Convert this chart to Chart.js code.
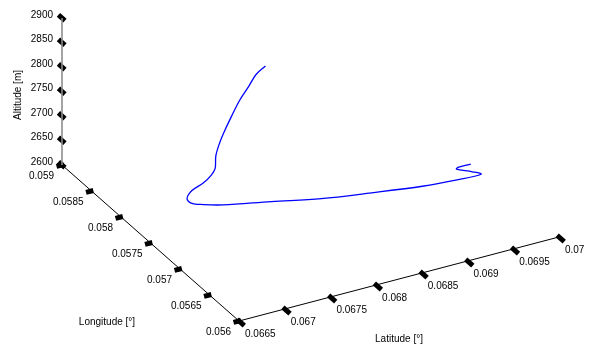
<!DOCTYPE html>
<html>
<head>
<meta charset="UTF-8">
<title>Flight track</title>
<script src="https://cdn.jsdelivr.net/npm/chart.js@4"></script>
<style>
  html, body { margin: 0; padding: 0; background: #fff; }
  #wrap { width: 593px; height: 349px; }
</style>
</head>
<body>
<div id="wrap"><canvas id="chart" width="593" height="349"></canvas></div>
<script>
// track (degrees / metres)
const latitude = [0.06799, 0.06790, 0.06781, 0.06770, 0.06759, 0.06750, 0.06744, 0.06737,
  0.06731, 0.06726, 0.06718, 0.06707, 0.06699, 0.06699, 0.06708, 0.06724, 0.06768,
  0.06813, 0.06861, 0.06910, 0.06944, 0.06971, 0.06966, 0.06955, 0.06958, 0.06972];
const longitude = [0.05786, 0.05788, 0.05787, 0.05785, 0.05782, 0.05779, 0.05778, 0.05774,
  0.05766, 0.05765, 0.05766, 0.05768, 0.05764, 0.05757, 0.05750, 0.05742, 0.05728,
  0.05713, 0.05702, 0.05692, 0.05688, 0.05687, 0.05694, 0.05704, 0.05706, 0.05706];
const altitude = [2850, 2835, 2815, 2795, 2770, 2750, 2730, 2710, 2695, 2685, 2672, 2660,
  2652, 2650, 2650, 2650, 2650, 2650, 2650, 2650, 2650, 2650, 2650, 2650, 2650, 2650];

const latTicks = [0.0665, 0.067, 0.0675, 0.068, 0.0685, 0.069, 0.0695, 0.07];
const lonTicks = [0.056, 0.0565, 0.057, 0.0575, 0.058, 0.0585, 0.059];
const altTicks = [2600, 2650, 2700, 2750, 2800, 2850, 2900];

const LAT0 = 0.0665, LAT1 = 0.07, LON0 = 0.056, LON1 = 0.059, ALT0 = 2600, ALT1 = 2900;

// oblique view: lat, lon, alt -> plane coordinates
function project(lat, lon, alt) {
  const a = (lat - LAT0) / 0.0005, b = (lon - LON0) / 0.0005, c = (alt - ALT0) / 50;
  return { x: 239 + a * 45.7 - b * 29.5, y: 321 - a * 12 - b * 26 - c * 24.5 };
}

const datasets = [];
function seg(p, q, color, width) {
  datasets.push({ data: [p, q], showLine: true, borderColor: color, borderWidth: width,
    borderCapStyle: 'butt', pointRadius: 0, tension: 0 });
}

seg(project(LAT0, LON1, ALT0), project(LAT0, LON1, ALT1), '#8c8c8c', 1.6);
seg(project(LAT0, LON1, ALT0), project(LAT0, LON0 - 0.00007, ALT0), '#000', 1);
seg(project(LAT0, LON0, ALT0), project(LAT1, LON0, ALT0), '#000', 1);

altTicks.forEach(v => seg(project(LAT0, LON1 + 0.00006, v), project(LAT0, LON1 - 0.00005, v), '#000', 5));
lonTicks.forEach(v => seg(project(LAT0 - 0.00006, v, ALT0), project(LAT0 + 0.00002, v, ALT0), '#000', 5));
latTicks.forEach(v => seg(project(v, LON0 + 0.00003, ALT0), project(v, LON0 - 0.00009, ALT0), '#000', 5));

datasets.push({
  data: latitude.map((la, i) => project(la, longitude[i], altitude[i])),
  showLine: true, borderColor: '#0000ff', borderWidth: 1.3, pointRadius: 0, tension: 0.35
});

const FONT = '10px "Liberation Sans", Arial, sans-serif';

const labelsPlugin = {
  id: 'axisText',
  afterDatasetsDraw(chart) {
    const ctx = chart.ctx, sx = chart.scales.x, sy = chart.scales.y;
    const px = p => ({ x: sx.getPixelForValue(p.x), y: sy.getPixelForValue(p.y) });
    ctx.save();
    ctx.font = FONT;
    ctx.fillStyle = '#000';
    ctx.textBaseline = 'middle';

    ctx.textAlign = 'right';
    altTicks.forEach(v => {
      const p = px(project(LAT0, LON1, v));
      ctx.fillText(String(v), p.x - 9, p.y - 3);
    });
    lonTicks.forEach(v => {
      const p = px(project(LAT0, v, ALT0));
      ctx.fillText(String(v), p.x - 8, p.y + 11);
    });
    ctx.textAlign = 'left';
    latTicks.forEach(v => {
      const p = px(project(v, LON0, ALT0));
      ctx.fillText(String(v), p.x + 6, p.y + 13);
    });

    ctx.textAlign = 'center';
    ctx.fillText('Longitude [°]', 107, 322);
    ctx.fillText('Latitude [°]', 399, 339);
    ctx.translate(18, 95);
    ctx.rotate(-Math.PI / 2);
    ctx.fillText('Altitude [m]', 0, 0);
    ctx.restore();
  }
};

new Chart(document.getElementById('chart'), {
  type: 'scatter',
  data: { datasets },
  options: {
    responsive: false,
    animation: false,
    devicePixelRatio: 1,
    layout: { padding: 0 },
    plugins: { legend: { display: false }, tooltip: { enabled: false } },
    scales: {
      x: { type: 'linear', min: 0, max: 593, display: false },
      y: { type: 'linear', min: 0, max: 349, reverse: true, display: false }
    }
  },
  plugins: [labelsPlugin]
});
</script>
</body>
</html>
